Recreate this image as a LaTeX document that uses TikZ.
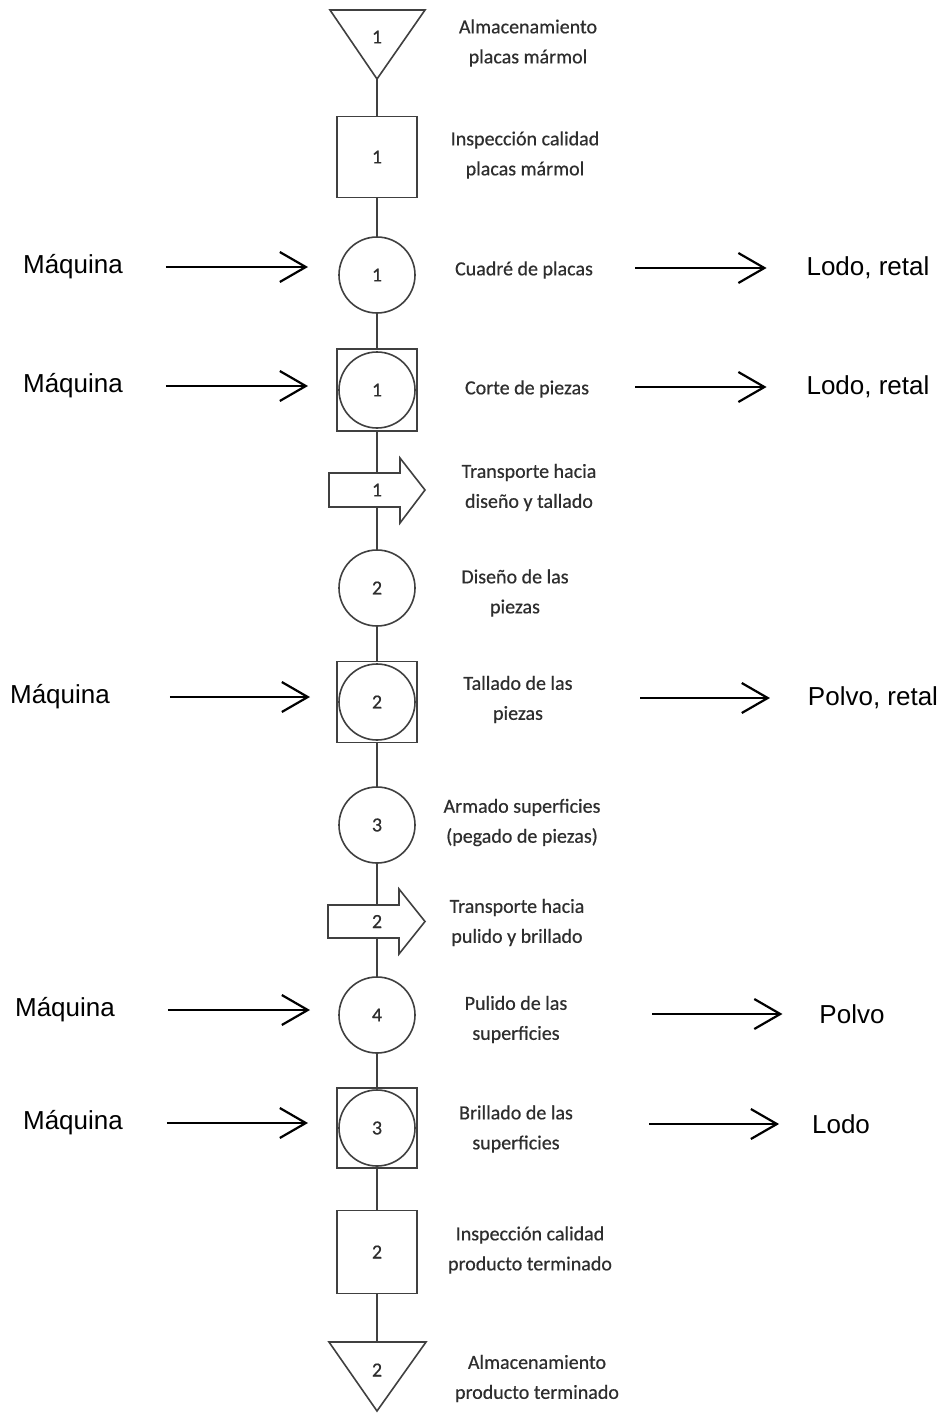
\documentclass[tikz,border=0pt]{standalone}
\usepackage{fontspec}
\setmainfont{Carlito}
\newfontfamily\stepfont{Carlito}[FakeBold=0.5]
\newfontfamily\armfont{Liberation Sans}
\usetikzlibrary{arrows.meta}
\definecolor{ink}{HTML}{404040}
\definecolor{txt}{HTML}{2E2E2E}

\begin{document}
\begin{tikzpicture}[x=1pt,y=-1pt,
  shp/.style={draw=ink, line width=1.6pt, outer sep=0pt, inner sep=0pt},
  opcirc/.style={shp, circle, minimum size=76pt},
  opsq/.style={shp, rectangle, minimum width=80pt, minimum height=81pt},
  num/.style={font=\stepfont\fontsize{20}{24}\selectfont, text=txt, inner sep=0pt, outer sep=0pt},
  lab/.style={font=\stepfont\fontsize{20}{30}\selectfont, text=txt, align=center, inner sep=0pt},
  big/.style={font=\armfont\fontsize{26}{30}\selectfont, inner sep=0pt, outer sep=0pt},
  link/.style={draw=ink, line width=1.6pt},
  flow/.style={draw=black, line width=2.2pt, -{Straight Barb[length=26pt, width=30pt]}},
]
\fill[white] (0,0) rectangle (945,1414);
\useasboundingbox (0,0) rectangle (945,1414);

% ---- process symbols along the main axis ----
% storage of raw slabs
\draw[shp] (330,10) -- (425,10) -- (377,79) -- cycle;
\coordinate (t1apex) at (377,79);
\node[num] (t1n) at (377,37) {1};

\node[opsq, num] (sq1) at (377,157) {1};
\node[opcirc, num] (c1) at (377,275) {1};

\node[opsq, minimum height=82pt] (sc1) at (377,390) {};
\node[opcirc, num] (sc1c) at (sc1) {1};

% transport 1
\draw[shp] (329,473) -- (400,473) -- (400,458) -- (425,490) -- (400,523) -- (400,507) -- (329,507) -- cycle;
\node[num, minimum height=34pt] (ba1) at (377,490) {1};

\node[opcirc, num] (c2) at (377,588) {2};

\node[opsq] (sc2) at (377,702) {};
\node[opcirc, num] (sc2c) at (sc2) {2};

\node[opcirc, num] (c3) at (377,825) {3};

% transport 2
\draw[shp] (328,905) -- (399,905) -- (399,889) -- (425,921.5) -- (399,954) -- (399,938) -- (328,938) -- cycle;
\node[num, minimum height=33pt] (ba2) at (377,921.5) {2};

\node[opcirc, num] (c4) at (377,1015) {4};

\node[opsq, minimum height=80pt] (sc3) at (377,1128) {};
\node[opcirc, num] (sc3c) at (sc3) {3};

\node[opsq, minimum height=83pt, num] (sq2) at (377,1252) {2};

% storage of finished product
\draw[shp] (329,1342) -- (426,1342) -- (377,1411) -- cycle;
\coordinate (t2top) at (377,1342);
\node[num] (t2n) at (377,1370) {2};

% ---- axis links ----
\draw[link] (t1apex) -- (sq1.north);
\draw[link] (sq1.south) -- (c1.north);
\draw[link] (c1.south) -- (sc1.north);
\draw[link] (sc1.south) -- (ba1.north);
\draw[link] (ba1.south) -- (c2.north);
\draw[link] (c2.south) -- (sc2.north);
\draw[link] (sc2.south) -- (c3.north);
\draw[link] (c3.south) -- (ba2.north);
\draw[link] (ba2.south) -- (c4.north);
\draw[link] (c4.south) -- (sc3.north);
\draw[link] (sc3.south) -- (sq2.north);
\draw[link] (sq2.south) -- (t2top);

% ---- step descriptions ----
\node[lab] (l1) at (528,43) {Almacenamiento\\placas mármol};
\node[lab] (l2) at (525,155) {Inspección calidad\\placas mármol};
\node[lab] (l3) at (524,270) {Cuadré de placas};
\node[lab] (l4) at (527,389) {Corte de piezas};
\node[lab] (l5) at (529,487.5) {Transporte hacia\\diseño y tallado};
\node[lab] (l6) at (515,593) {Diseño de las\\piezas};
\node[lab] (l7) at (518,699.5) {Tallado de las\\piezas};
\node[lab] (l8) at (522,822.5) {Armado superficies\\(pegado de piezas)};
\node[lab] (l9) at (517,922.5) {Transporte hacia\\pulido y brillado};
\node[lab] (l10) at (516,1019.5) {Pulido de las\\superficies};
\node[lab] (l11) at (516,1129) {Brillado de las\\superficies};
\node[lab] (l12) at (530,1250) {Inspección calidad\\producto terminado};
\node[lab] (l13) at (537,1378.5) {Almacenamiento\\producto terminado};

% ---- machine inputs ----
\node[big] (m1) at (73,267) {Máquina};
\node[big] (m2) at (73,386) {Máquina};
\node[big] (m3) at (60,697) {Máquina};
\node[big] (m4) at (65,1010) {Máquina};
\node[big] (m5) at (73,1123) {Máquina};

\draw[flow, shorten <=43pt, shorten >=31pt] (m1.east) -- (m1.east -| c1.west);
\draw[flow, shorten <=43pt, shorten >=29pt] (m2.east) -- (m2.east -| sc1.west);
\draw[flow, shorten <=60pt, shorten >=27pt] (m3.east) -- (m3.east -| sc2.west);
\draw[flow, shorten <=53pt, shorten >=29pt] (m4.east) -- (m4.east -| c4.west);
\draw[flow, shorten <=44pt, shorten >=29pt] (m5.east) -- (m5.east -| sc3.west);

% ---- waste outputs ----
\node[big] (o1) at (868,268) {Lodo, retal};
\node[big] (o2) at (868,387) {Lodo, retal};
\node[big] (o3) at (873,698) {Polvo, retal};
\node[big] (o4) at (852,1014) {Polvo};
\node[big] (o5) at (841,1124) {Lodo};

\draw[flow, shorten <=220pt, shorten >=40pt] (o1.west -| c1.east) -- (o1.west);
\draw[flow, shorten <=218pt, shorten >=40pt] (o2.west -| sc1.east) -- (o2.west);
\draw[flow, shorten <=223pt, shorten >=38pt] (o3.west -| sc2.east) -- (o3.west);
\draw[flow, shorten <=237pt, shorten >=37pt] (o4.west -| c4.east) -- (o4.west);
\draw[flow, shorten <=232pt, shorten >=33pt] (o5.west -| sc3.east) -- (o5.west);
\end{tikzpicture}
\end{document}
